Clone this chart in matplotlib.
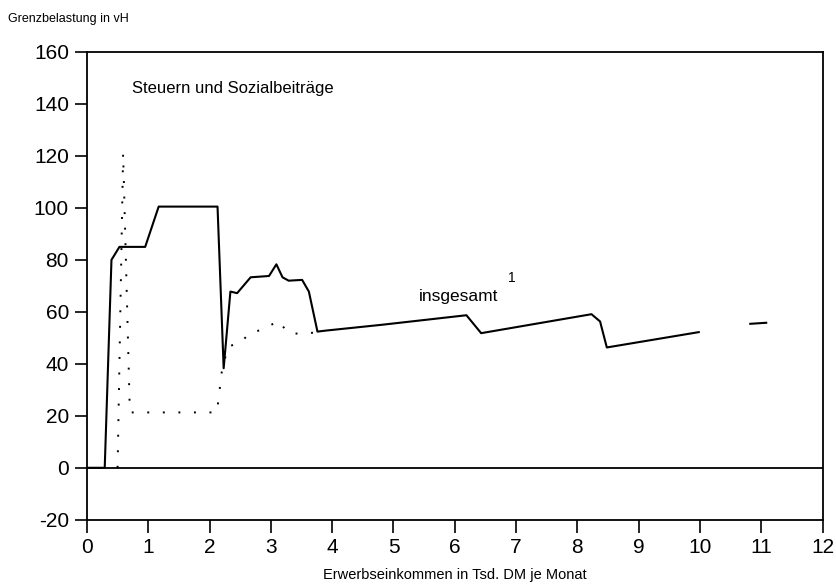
import numpy as np
import matplotlib
matplotlib.use("Agg")
import matplotlib.pyplot as plt

plt.rcParams['font.family'] = ['Liberation Sans', 'DejaVu Sans']
plt.rcParams['axes.unicode_minus'] = False

# Grenzbelastung insgesamt (solid), in vH over income in Tsd. DM
total_x = [0.0, 0.29, 0.40, 0.53, 0.95, 1.17, 2.13, 2.23, 2.34, 2.45, 2.67, 2.97,
           3.09, 3.19, 3.29, 3.51, 3.62, 3.76, 3.90, 4.80, 6.19, 6.43, 8.23, 8.37,
           8.48, 9.98, np.nan, 10.82, 11.08]
total_y = [0.0, 0.0, 80.0, 85.0, 85.0, 100.5, 100.5, 38.3, 67.8, 67.2, 73.3, 73.8,
           78.3, 73.3, 72.0, 72.3, 67.8, 52.4, 52.8, 55.0, 58.7, 51.8, 59.1, 56.3,
           46.3, 52.2, np.nan, 55.4, 55.8]

# second curve (dotted)
dot_x = [0.50, 0.59, 0.70, 2.12, 2.20, 2.30, 2.50, 2.66, 2.84, 3.03, 3.14, 3.26,
         3.46, 3.70, 3.80]
dot_y = [0.0, 121.0, 21.3, 21.3, 37.0, 46.7, 48.0, 52.0, 53.0, 55.3, 56.5, 52.2,
         51.5, 52.0, 52.5]

xticks = list(range(0, 13))
yticks = list(range(-20, 161, 20))

fig = plt.figure(figsize=(8.36, 5.84), dpi=100)
ax = fig.add_axes([0.104, 0.110, 0.880, 0.801])

ax.axhline(0, color='black', lw=1.3, zorder=2)
ax.plot(total_x, total_y, color='black', lw=1.5, zorder=3)
ax.plot(dot_x, dot_y, color='black', lw=1.4, linestyle=(0, (1, 7)), zorder=3)

ax.set_xlim(0, 12)
ax.set_ylim(-20, 160)
ax.set_xticks(xticks)
ax.set_yticks(yticks)
ax.tick_params(axis='both', direction='out', length=9, width=1.2, labelsize=15,
               color='black', pad=4)
for s in ax.spines.values():
    s.set_linewidth(1.3)
    s.set_color('black')

ax.text(0.74, 146, "Steuern und Sozialbeiträge", fontsize=12, va='center', ha='left')
ax.text(5.42, 66, "insgesamt", fontsize=12.5, va='center', ha='left')
ax.text(6.87, 73.0, "1", fontsize=10, va='center', ha='left')

ax.set_xlabel("Erwerbseinkommen in Tsd. DM je Monat", fontsize=10.5, labelpad=8)
fig.text(0.010, 0.968, "Grenzbelastung in vH", fontsize=9, va='center', ha='left')

fig.savefig("out.png", dpi=100)
